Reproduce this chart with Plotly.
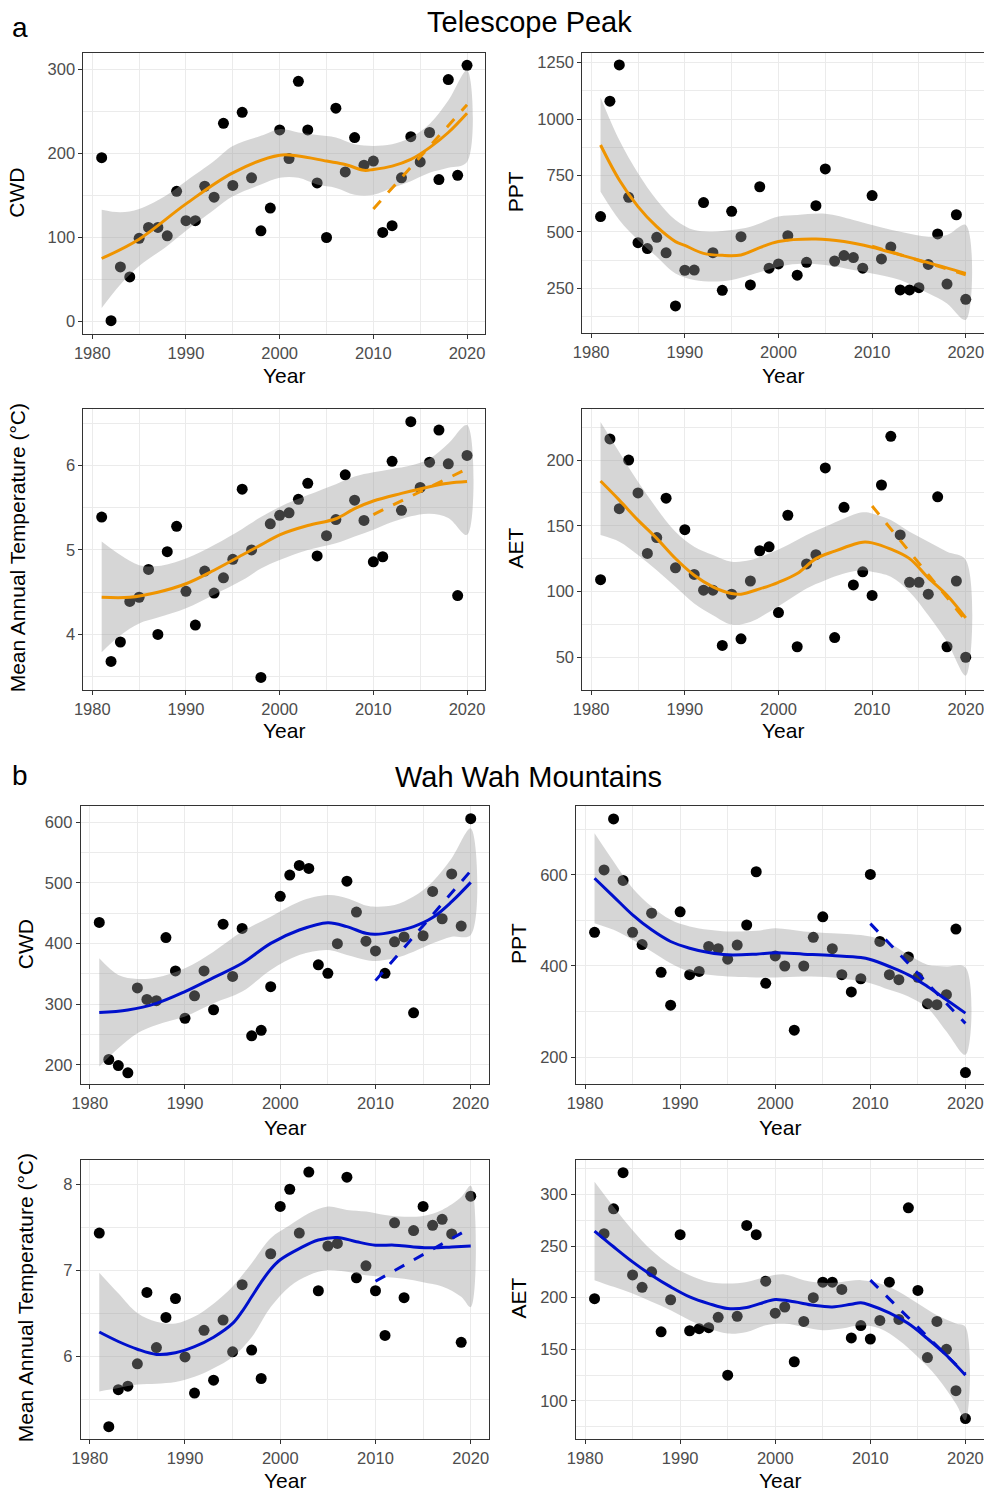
import plotly.graph_objects as go

# ---------------- data ----------------
years = list(range(1981, 2021))

# Telescope Peak (a)
tp_cwd = [195, 1, 65, 53, 99, 112, 112, 102, 155, 120, 120, 161, 148, 236, 162, 249, 171, 108, 135, 228,
          194, 286, 228, 165, 100, 254, 178, 219, 186, 191, 106, 114, 171, 220, 190, 225, 169, 288, 174, 305]
tp_ppt = [568, 1079, 1240, 653, 452, 426, 476, 407, 172, 330, 331, 630, 408, 241, 591, 479, 265, 700, 339, 358,
          483, 308, 365, 616, 779, 371, 395, 386, 339, 661, 380, 433, 243, 243, 253, 356, 491, 269, 576, 201]
tp_tmp = [5.39, 3.68, 3.91, 4.39, 4.44, 4.77, 4.00, 4.98, 5.28, 4.51, 4.11, 4.75, 4.49, 4.67, 4.89, 5.72, 5.00, 3.49, 5.31, 5.41,
          5.44, 5.60, 5.79, 4.93, 5.17, 5.36, 5.89, 5.59, 5.35, 4.86, 4.92, 6.05, 5.47, 6.52, 5.74, 6.04, 6.42, 6.02, 4.46, 6.12]
tp_aet = [109, 216, 163, 200, 175, 129, 141, 171, 118, 147, 113, 101, 101, 59, 98, 64, 108, 131, 134, 84,
          158, 58, 121, 128, 194, 65, 164, 105, 115, 97, 181, 218, 143, 107, 107, 98, 172, 58, 108, 50]

# Wah Wah Mountains (b)
ww_cwd = [435, 209, 199, 187, 327, 308, 306, 410, 355, 277, 314, 355, 291, 432, 346, 425, 248, 257, 329, 478,
          513, 529, 524, 365, 351, 400, 503, 452, 404, 388, 351, 403, 411, 286, 413, 486, 441, 515, 429, 606]
ww_ppt = [474, 611, 723, 588, 474, 447, 516, 386, 314, 519, 381, 388, 443, 438, 415, 446, 490, 607, 362, 422,
          400, 259, 400, 463, 508, 438, 381, 343, 372, 601, 454, 381, 370, 420, 375, 317, 315, 337, 481, 166]
ww_tmp = [7.43, 5.18, 5.61, 5.65, 5.91, 6.74, 6.10, 6.45, 6.67, 5.99, 5.57, 6.30, 5.72, 6.42, 6.05, 6.83, 6.07, 5.74, 7.19, 7.74,
          7.94, 7.43, 8.14, 6.76, 7.28, 7.31, 8.08, 6.91, 7.05, 6.76, 6.24, 7.55, 6.68, 7.46, 7.74, 7.52, 7.59, 7.42, 6.16, 7.86]
ww_aet = [199, 262, 286, 321, 222, 210, 225, 167, 198, 261, 168, 170, 171, 181, 125, 182, 270, 261, 216, 185,
          191, 138, 177, 200, 215, 215, 208, 161, 173, 160, 178, 215, 179, 287, 207, 142, 177, 150, 110, 83]

# smoothed (loess) curves
tp_cwd_fit_yr = [1981, 1985, 1990, 1995, 2000, 2002, 2005, 2007, 2009, 2010, 2012, 2014, 2016, 2018, 2020]
tp_cwd_fit = [75, 98, 140, 177, 198, 197, 191, 187, 180, 181, 185, 193, 207, 225, 248]
tp_cwd_band_yr = [1981, 1983, 1985, 1988, 1990, 1993, 1995, 1998, 2000, 2002, 2004, 2006, 2008, 2010, 2012, 2014, 2016, 2018, 2020]
tp_cwd_hi = [133, 130, 134, 151, 167, 191, 209, 221, 229, 225, 222, 219, 211, 209, 211, 219, 235, 263, 299]
tp_cwd_lo = [16, 44, 66, 90, 108, 133, 149, 163, 171, 171, 163, 159, 151, 151, 159, 167, 177, 183, 190]

tp_ppt_fit_yr = [1981, 1983, 1985, 1987, 1989, 1990, 1992, 1994, 1996, 1998, 2000, 2004, 2007, 2010, 2013, 2016, 2020]
tp_ppt_fit = [885, 730, 612, 523, 457, 440, 405, 396, 398, 430, 457, 468, 457, 432, 398, 364, 316]
tp_ppt_band_yr = [1981, 1983, 1985, 1987, 1989, 1991, 1993, 1995, 1997, 2000, 2002, 2005, 2008, 2010, 2013, 2016, 2018, 2020]
tp_ppt_hi = [1096, 907, 760, 641, 553, 508, 501, 508, 523, 568, 575, 580, 553, 531, 501, 479, 486, 531]
tp_ppt_lo = [678, 553, 464, 390, 316, 287, 280, 287, 309, 346, 358, 353, 331, 316, 287, 228, 183, 110]

tp_tmp_fit_yr = [1981, 1984, 1987, 1990, 1993, 1996, 1998, 2000, 2003, 2006, 2008, 2010, 2013, 2016, 2018, 2020]
tp_tmp_fit = [4.44, 4.44, 4.50, 4.60, 4.76, 4.94, 5.06, 5.18, 5.29, 5.37, 5.49, 5.58, 5.67, 5.75, 5.79, 5.81]
tp_tmp_band_yr = [1981, 1983, 1985, 1987, 1990, 1993, 1996, 1998, 2000, 2003, 2006, 2008, 2010, 2012, 2014, 2016, 2018, 2020]
tp_tmp_hi = [5.10, 4.94, 4.82, 4.81, 4.90, 5.06, 5.25, 5.39, 5.51, 5.65, 5.78, 5.87, 5.92, 5.96, 6.00, 6.08, 6.26, 6.48]
tp_tmp_lo = [3.79, 3.99, 4.13, 4.20, 4.31, 4.47, 4.64, 4.78, 4.88, 5.00, 5.08, 5.16, 5.24, 5.33, 5.40, 5.43, 5.38, 5.18]

tp_aet_fit_yr = [1981, 1983, 1985, 1987, 1989, 1991, 1993, 1995, 1996, 1998, 2000, 2002, 2004, 2006, 2008, 2009, 2010, 2012, 2014, 2016, 2018, 2020]
tp_aet_fit = [184, 169.5, 154.3, 140.4, 125.1, 112.4, 103.6, 98.5, 98, 102, 107, 113.7, 125, 130.7, 135.8, 137.5, 137, 132.2, 125, 110.4, 97.2, 80]
tp_aet_band_yr = [1981, 1983, 1985, 1987, 1989, 1991, 1993, 1995, 1997, 1999, 2001, 2003, 2005, 2007, 2009, 2010, 2012, 2014, 2016, 2018, 2020]
tp_aet_hi = [229, 206, 183.5, 163.2, 145.4, 134, 127.7, 122.6, 123.9, 128.9, 135.3, 142.9, 149.2, 155.6, 160.2, 159.4, 154.3, 145.4, 137.8, 130.2, 123.9]
tp_aet_lo = [142.9, 137.8, 127.7, 116.2, 103.6, 90.9, 82, 74.9, 76.9, 84.5, 93.4, 102.3, 108.6, 113.7, 116.2, 115, 111.2, 99.7, 82, 61.7, 36]

ww_cwd_fit_yr = [1981, 1984, 1987, 1990, 1993, 1996, 1999, 2002, 2005, 2007, 2009, 2010, 2012, 2014, 2016, 2018, 2020]
ww_cwd_fit = [286.3, 290.7, 301.6, 320.9, 344, 367.6, 400.5, 422.5, 434.6, 428, 417, 415.4, 419.8, 428, 442.9, 469.2, 501]
ww_cwd_band_yr = [1981, 1983, 1985, 1987, 1990, 1993, 1996, 1999, 2002, 2005, 2007, 2009, 2010, 2012, 2014, 2016, 2018, 2020]
ww_cwd_hi = [375.8, 348.4, 341.8, 344, 359.3, 386.8, 419.8, 444.5, 469.2, 480, 475, 463, 461, 463.7, 477.5, 502.2, 540.7, 590]
ww_cwd_lo = [197.3, 227.5, 252.2, 265.9, 279.7, 301.6, 320.9, 356.6, 381.3, 389.6, 381.3, 373.1, 371.4, 375.8, 386.8, 400.5, 411.5, 414.3]

ww_ppt_fit_yr = [1981, 1983, 1985, 1987, 1989, 1991, 1993, 1995, 1998, 2000, 2003, 2006, 2009, 2010, 2012, 2014, 2016, 2018, 2020]
ww_ppt_fit = [592.7, 552.5, 512.3, 479.4, 453.8, 439.1, 429.6, 424.5, 426, 428.9, 426, 423, 418.7, 414.3, 398.9, 380.6, 355, 325.8, 296.5]
ww_ppt_band_yr = [1981, 1983, 1985, 1987, 1989, 1991, 1993, 1995, 1998, 2000, 2003, 2006, 2008, 2010, 2012, 2014, 2016, 2018, 2020]
ww_ppt_hi = [691.4, 629.3, 570.8, 530.5, 501.3, 486.7, 479.4, 475.7, 477.2, 483, 476, 472, 469.9, 464.7, 450.1, 424.5, 402.6, 398.9, 396.7]
ww_ppt_lo = [494, 479.4, 457.4, 431.8, 406.2, 387.9, 380.6, 377, 374.8, 374.8, 377, 374.8, 369.7, 362.3, 347.7, 333.1, 307.5, 256.3, 205.1]

ww_tmp_fit_yr = [1981, 1983, 1985, 1987, 1989, 1991, 1993, 1995, 1996, 1997, 1998, 1999, 2000, 2002, 2004, 2006, 2008, 2010, 2012, 2014, 2016, 2018, 2020]
ww_tmp_fit = [6.28, 6.17, 6.08, 6.02, 6.04, 6.11, 6.22, 6.38, 6.52, 6.69, 6.86, 7.01, 7.12, 7.25, 7.35, 7.38, 7.33, 7.29, 7.29, 7.27, 7.26, 7.27, 7.28]
ww_tmp_band_yr = [1981, 1983, 1985, 1987, 1989, 1991, 1993, 1995, 1997, 1999, 2001, 2003, 2005, 2007, 2009, 2011, 2013, 2015, 2017, 2019, 2020]
ww_tmp_hi = [6.97, 6.73, 6.50, 6.40, 6.38, 6.46, 6.61, 6.81, 7.08, 7.37, 7.52, 7.66, 7.74, 7.70, 7.68, 7.64, 7.62, 7.63, 7.70, 7.85, 7.98]
ww_tmp_lo = [5.59, 5.63, 5.67, 5.68, 5.70, 5.76, 5.86, 5.99, 6.22, 6.57, 6.81, 6.94, 7.00, 6.98, 6.94, 6.92, 6.90, 6.86, 6.81, 6.69, 6.57]

ww_aet_fit_yr = [1981, 1983, 1985, 1987, 1989, 1991, 1993, 1995, 1997, 1999, 2000, 2002, 2004, 2006, 2008, 2009, 2010, 2012, 2014, 2016, 2018, 2020]
ww_aet_fit = [264.5, 249.3, 234.7, 221.8, 210.5, 200.8, 194.3, 189.5, 190.5, 196, 198.2, 196, 192.7, 191.1, 193.7, 195, 192.7, 185.3, 175, 160.4, 144.3, 124.9]
ww_aet_band_yr = [1981, 1983, 1985, 1987, 1989, 1991, 1993, 1995, 1997, 1999, 2001, 2003, 2005, 2007, 2009, 2011, 2013, 2015, 2017, 2019, 2020]
ww_aet_hi = [312.3, 288, 265.4, 246, 231.5, 221.8, 215.3, 213.7, 215.3, 220.2, 222.5, 217, 214.4, 215.3, 217, 213.7, 205.7, 194.3, 183, 175, 171.7]
ww_aet_lo = [217, 210.5, 204, 196, 187.9, 178.2, 170.1, 165.3, 166.9, 173.3, 175, 171.7, 168.5, 170.1, 173.3, 170.1, 158.8, 142.6, 123.3, 97.4, 81.3]

# linear trend 2010-2020 (dashed), endpoints
trend_yr = [2010, 2020]
tp_cwd_trend = [134, 258]
tp_ppt_trend = [437, 310]
tp_tmp_trend = [5.42, 5.96]
tp_aet_trend = [165, 78]
ww_cwd_trend = [339, 520]
ww_ppt_trend = [493, 274]
ww_tmp_trend = [6.87, 7.49]
ww_aet_trend = [217, 126]

x_ticks = [1980, 1990, 2000, 2010, 2020]
x_minor = [1985, 1995, 2005, 2015]

# ---------------- styling / layout ----------------
W, H = 984, 1491
FONT = "Liberation Sans, Arial, sans-serif"
ORANGE = "#EF9400"
BLUE = "#0010CC"
GRID = "#EBEBEB"

panels = [
    # values, fit_yr, fit, band_yr, hi, lo, trend, color, ylabel, yrange, yticks, yminor, box(l,r,t,b), ylab_x, xlab_y
    (tp_cwd, tp_cwd_fit_yr, tp_cwd_fit, tp_cwd_band_yr, tp_cwd_hi, tp_cwd_lo, tp_cwd_trend, ORANGE, "CWD",
     [-14.9, 319.3], [0, 100, 200, 300], [50, 150, 250], (83.4, 485.3, 53.3, 334.0), 17, 375),
    (tp_ppt, tp_ppt_fit_yr, tp_ppt_fit, tp_ppt_band_yr, tp_ppt_hi, tp_ppt_lo, tp_ppt_trend, ORANGE, "PPT",
     [50.6, 1291.4], [250, 500, 750, 1000, 1250], [125, 375, 625, 875, 1125], (582.3, 984.0, 53.3, 333.3), 515, 375),
    (tp_tmp, tp_tmp_fit_yr, tp_tmp_fit, tp_tmp_band_yr, tp_tmp_hi, tp_tmp_lo, tp_tmp_trend, ORANGE, "Mean Annual Temperature (°C)",
     [3.345, 6.67], [4, 5, 6], [3.5, 4.5, 5.5, 6.5], (83.4, 485.3, 409.0, 689.7), 17, 730),
    (tp_aet, tp_aet_fit_yr, tp_aet_fit, tp_aet_band_yr, tp_aet_hi, tp_aet_lo, tp_aet_trend, ORANGE, "AET",
     [25.1, 238.8], [50, 100, 150, 200], [75, 125, 175, 225], (582.3, 984.0, 409.0, 690.0), 515, 730),
    (ww_cwd, ww_cwd_fit_yr, ww_cwd_fit, ww_cwd_band_yr, ww_cwd_hi, ww_cwd_lo, ww_cwd_trend, BLUE, "CWD",
     [168.1, 626.9], [200, 300, 400, 500, 600], [250, 350, 450, 550], (80.7, 489.3, 806.0, 1084.3), 25, 1127),
    (ww_ppt, ww_ppt_fit_yr, ww_ppt_fit, ww_ppt_band_yr, ww_ppt_hi, ww_ppt_lo, ww_ppt_trend, BLUE, "PPT",
     [140.8, 751.4], [200, 400, 600], [300, 500, 700], (576.0, 984.0, 806.0, 1084.0), 518, 1127),
    (ww_tmp, ww_tmp_fit_yr, ww_tmp_fit, ww_tmp_band_yr, ww_tmp_hi, ww_tmp_lo, ww_tmp_trend, BLUE, "Mean Annual Temperature (°C)",
     [5.04, 8.28], [6, 7, 8], [5.5, 6.5, 7.5], (80.7, 489.3, 1160.0, 1438.7), 25, 1480),
    (ww_aet, ww_aet_fit_yr, ww_aet_fit, ww_aet_band_yr, ww_aet_hi, ww_aet_lo, ww_aet_trend, BLUE, "AET",
     [63.2, 333.3], [100, 150, 200, 250, 300], [75, 125, 175, 225, 275, 325], (576.0, 984.0, 1160.0, 1439.0), 518, 1480),
]

fig = go.Figure()
annotations = []
layout_axes = {}

for i, (vals, fyr, fit, byr, hi, lo, trend, col, ylabel, yr, yt, ym, box, ylx, xly) in enumerate(panels, start=1):
    xa = "x" if i == 1 else f"x{i}"
    ya = "y" if i == 1 else f"y{i}"
    l, r, t, b = box
    # points
    fig.add_trace(go.Scatter(x=years, y=vals, mode="markers", xaxis=xa, yaxis=ya,
                             marker=dict(color="black", size=11, line=dict(width=0)),
                             showlegend=False, hoverinfo="x+y"))
    # confidence band
    fig.add_trace(go.Scatter(x=byr + byr[::-1], y=hi + lo[::-1], mode="lines", fill="toself",
                             fillcolor="rgba(153,153,153,0.4)", line=dict(width=0, shape="spline", smoothing=1.0),
                             xaxis=xa, yaxis=ya, showlegend=False, hoverinfo="skip"))
    # loess curve
    fig.add_trace(go.Scatter(x=fyr, y=fit, mode="lines", xaxis=xa, yaxis=ya,
                             line=dict(color=col, width=3, shape="spline", smoothing=1.0),
                             showlegend=False))
    # linear trend 2010-2020
    fig.add_trace(go.Scatter(x=trend_yr, y=trend, mode="lines", xaxis=xa, yaxis=ya,
                             line=dict(color=col, width=3, dash="11px,11px"),
                             showlegend=False))

    axis_common = dict(showline=True, linecolor="#333333", linewidth=1, mirror=True,
                       ticks="outside", ticklen=4, tickwidth=1, tickcolor="#333333",
                       showgrid=True, gridcolor=GRID, gridwidth=1.3, zeroline=False,
                       automargin=False, ticklabeloverflow="allow",
                       tickfont=dict(family=FONT, size=16.5, color="#4D4D4D"))
    layout_axes["xaxis" if i == 1 else f"xaxis{i}"] = dict(
        axis_common, anchor=ya, domain=[l / W, r / W], range=[1979.05, 2021.95],
        tickmode="array", tickvals=x_ticks,
        minor=dict(showgrid=True, gridcolor=GRID, gridwidth=0.7, tickmode="array", tickvals=x_minor, ticks=""))
    layout_axes["yaxis" if i == 1 else f"yaxis{i}"] = dict(
        axis_common, anchor=xa, domain=[1 - b / H, 1 - t / H], range=yr,
        tickmode="array", tickvals=yt,
        minor=dict(showgrid=True, gridcolor=GRID, gridwidth=0.7, tickmode="array", tickvals=ym, ticks=""))

    # axis titles
    annotations.append(dict(text="Year", xref="paper", yref="paper", x=((l + r) / 2) / W, y=1 - xly / H,
                            xanchor="center", yanchor="middle", showarrow=False,
                            font=dict(family=FONT, size=21, color="black")))
    annotations.append(dict(text=ylabel, xref="paper", yref="paper", x=ylx / W, y=1 - ((t + b) / 2 - 1) / H,
                            xanchor="center", yanchor="middle", showarrow=False, textangle=-90,
                            font=dict(family=FONT, size=21, color="black")))

# panel group titles and letters
for txt, xx, yy, sz in [("Telescope Peak", 529, 22, 29), ("Wah Wah Mountains", 528, 777, 29),
                        ("a", 20, 27, 28), ("b", 20, 775, 28)]:
    annotations.append(dict(text=txt, xref="paper", yref="paper", x=xx / W, y=1 - yy / H,
                            xanchor="center", yanchor="middle", showarrow=False,
                            font=dict(family=FONT, size=sz, color="black")))

fig.update_layout(width=W, height=H, margin=dict(l=0, r=0, t=0, b=0, autoexpand=False),
                  paper_bgcolor="white", plot_bgcolor="white",
                  annotations=annotations, showlegend=False, **layout_axes)

fig.write_html("out.html", config={"displayModeBar": False},
               post_script="document.body.style.margin='0';document.body.style.padding='0';"
                           "document.body.style.overflow='hidden';")
